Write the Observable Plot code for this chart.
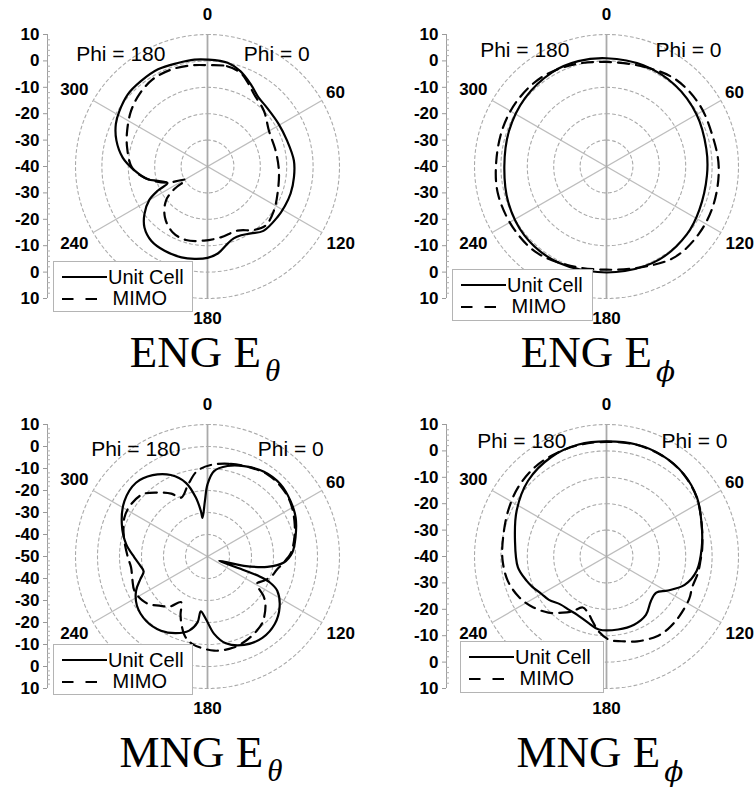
<!DOCTYPE html>
<html><head><meta charset="utf-8">
<script src="https://cdn.jsdelivr.net/npm/d3@7"></script>
<script src="https://cdn.jsdelivr.net/npm/@observablehq/plot@0.6"></script>
<style>
body{margin:0;background:#fff;}
#page{position:relative;width:755px;height:789px;overflow:hidden;background:#fff;}
.panel{position:absolute;width:380px;height:329px;}
.panel svg{overflow:visible;max-width:none !important;}
.legend{position:absolute;background:#fff;border:1px solid #b4b4b4;box-sizing:border-box;}
.legend svg{position:absolute;left:0;top:0;}
.title{position:absolute;width:300px;text-align:center;font-family:"Liberation Serif","Times New Roman",serif;font-size:45px;line-height:45px;height:45px;color:#000;white-space:nowrap;}
.title .sub{font-style:italic;font-size:31px;line-height:31px;position:relative;top:14px;margin-left:4px;}
.title .sub.phi{font-family:"DejaVu Serif","Liberation Serif",serif;font-size:28px;}
</style></head>
<body><div id="page"></div>
<script>
// ---------- data ----------
const seriesNames = ["Unit Cell", "MIMO"];
const angleTicks = [0, 60, 120, 180, 240, 300];
const spokeAngles = [60, 120];
const axisAngle = [0];
const phiLabels = ["Phi = 180", "Phi = 0"];
const panelNames = ["ENG", "ENG", "MNG", "MNG"];
const panelSubscripts = ["θ", "ϕ", "θ", "ϕ"];

const rangeEngTheta = [-40, 10];
const rangeEngPhi = [-40, 10];
const rangeMngTheta = [-50, 10];
const rangeMngPhi = [-40, 10];

// ENG E-theta
const engThetaUnitAngle = [0, 11, 19, 28, 36, 45, 59, 72, 86, 97, 108, 117, 126, 139, 147, 154, 160, 166, 173, 180, 188, 196, 207, 217, 226, 233, 240, 244, 247.5, 254, 258, 267, 276, 286, 295, 302, 312, 322, 333, 344, 353];
const engThetaUnitDb = [0.5, 0.0, -1.8, -4.9, -7.4, -8.3, -8.6, -8.3, -7.2, -7.0, -6.9, -7.1, -7.3, -7.7, -9.8, -11.0, -11.0, -9.6, -6.9, -5.4, -4.7, -4.2, -4.2, -4.7, -6.8, -10.1, -14.5, -19.0, -23.6, -20.4, -16.9, -12.3, -7.7, -4.1, -1.7, -0.6, 0.7, 1.0, 1.3, 0.8, 0.8];
const engThetaMimoAngle = [0, 11, 19.5, 26, 33, 45.5, 60, 77, 93.5, 109, 123.6, 135.5, 143.8, 155, 169.4, 182.6, 196.4, 208, 220, 230.5, 236, 238.5, 248, 255.4, 262, 269.5, 283.3, 293.9, 306, 316.6, 327.8, 339.4, 350.7];
const engThetaMimoDb = [-1.6, -1.3, -2.4, -4.9, -7.5, -10.0, -13.1, -13.5, -12.9, -11.8, -9.8, -8.6, -10.2, -13.2, -12.7, -11.9, -11.0, -11.8, -14.9, -19.6, -25.1, -30.4, -23.7, -18.6, -14.6, -11.3, -8.7, -6.7, -4.2, -2.4, -1.0, -0.8, -1.2];

// ENG E-phi
const engPhiUnitAngle = [0, 20, 40, 60, 80, 95, 115, 130, 150, 170, 190, 210, 230, 250, 270, 290, 310, 330, 345];
const engPhiUnitDb = [1.0, 0.8, 0.3, -0.6, -1.6, -1.8, -1.2, -0.2, 0.5, 0.2, 0.2, 0.8, 0.6, -0.4, -1.3, -0.7, 0.3, 1.2, 1.3];
const engPhiMimoAngle = [0, 20, 38, 56, 73, 90, 109, 126, 143, 160, 180, 200, 219, 237, 256, 273, 291, 307, 324, 342];
const engPhiMimoDb = [-0.4, 0.3, 2.1, 2.3, 1.8, 2.5, 3.0, 3.3, 3.0, 0.5, -0.9, 0.0, 2.0, 2.3, 2.4, 1.8, 1.9, 2.0, 1.8, 0.6];

// MNG E-theta
const mngThetaUnitAngle = [0, 4.4, 12.4, 22, 33.7, 45.4, 56.3, 66.2, 77.9, 87.3, 94.5, 99.8, 104.3, 110, 110.5, 111, 112.5, 116.1, 125.2, 135.1, 146, 157.5, 168.1, 175.1, 181.5, 187, 188.6, 193.9, 202.4, 212.1, 223.8, 235.1, 244.4, 251.4, 256.8, 262.1, 269.2, 278.6, 290.6, 303.7, 315.9, 326, 335.8, 343.7, 348.8, 351.7, 352.7, 357.3];
const mngThetaUnitDb = [-17.2, -11.1, -7.9, -5.7, -3.7, -3.3, -4.6, -6.2, -9.1, -11.4, -15.2, -22.4, -32.9, -44.4, -34, -24.4, -19.5, -14.7, -9.9, -6.7, -5.4, -6.5, -9.7, -14.7, -21.6, -24.9, -19.7, -15.3, -12.3, -10.2, -9.6, -10.9, -14.0, -17.8, -20.2, -19.2, -16.8, -12.6, -8.4, -4.6, -3.3, -5.4, -9.4, -15.1, -22.7, -29.1, -32.3, -24.8];
const mngThetaMimoAngle = [2, 14, 25, 36, 48, 58, 70, 80, 88, 95, 101, 107, 113, 119, 125, 130, 140, 147, 155, 164, 176, 190, 196, 201, 205, 210, 217, 224.5, 230, 236, 245, 253, 262, 270, 283, 295, 304, 314, 322, 330, 336, 345, 353];
const mngThetaMimoDb = [-8.4, -6.6, -5.2, -3.8, -4.0, -5.2, -7.8, -10.1, -12.2, -15.5, -18, -19.5, -22, -24.4, -19, -15.6, -11, -9.4, -8, -7.0, -7.1, -9.7, -12.5, -17, -21, -26, -21.5, -18.7, -16, -14.3, -13.3, -14.3, -14.9, -13.7, -11.0, -8.3, -7.9, -9.2, -13.1, -17.0, -20.7, -16.1, -10.9];

// MNG E-phi
const mngPhiUnitAngle = [0, 15, 29, 43, 57, 71, 85, 99, 110, 119, 126, 135, 146, 158, 171, 186, 195, 207, 215, 224, 233, 240, 248, 253, 263, 280, 297, 314, 331, 346];
const mngPhiUnitDb = [3.6, 3.9, 3.7, 2.8, 0.9, -1.9, -3.8, -5.4, -8.5, -13.4, -16.7, -16.2, -13.3, -12.1, -12.0, -12.2, -13.9, -15.3, -15.3, -14.8, -12.7, -11.6, -9.6, -8.4, -6.2, -4.8, -1.8, 1.3, 3.1, 3.7];
const mngPhiMimoAngle = [0, 15, 30, 43, 57, 71, 85, 93, 100, 110, 117, 130, 140, 148, 160, 170, 178, 186, 192, 198, 205, 212, 218, 226, 236, 245, 256, 268, 280, 295, 308, 322, 335, 348];
const mngPhiMimoDb = [3.4, 3.8, 3.6, 2.7, 0.8, -1.9, -3.6, -4.4, -4.8, -5.5, -4.8, -4.3, -4.0, -4.3, -5.8, -7.4, -8.4, -11.5, -14.8, -17.5, -18.7, -15.5, -13.0, -9.4, -6.0, -3.5, -1.5, -0.6, -0.2, 1.1, 2.5, 3.4, 3.5, 3.5];

// ---------- panels ----------
const panels = [
  {name: panelNames[0], sub: panelSubscripts[0], range: rangeEngTheta, unit: [engThetaUnitAngle, engThetaUnitDb], mimo: [engThetaMimoAngle, engThetaMimoDb]},
  {name: panelNames[1], sub: panelSubscripts[1], range: rangeEngPhi, unit: [engPhiUnitAngle, engPhiUnitDb], mimo: [engPhiMimoAngle, engPhiMimoDb]},
  {name: panelNames[2], sub: panelSubscripts[2], range: rangeMngTheta, unit: [mngThetaUnitAngle, mngThetaUnitDb], mimo: [mngThetaMimoAngle, mngThetaMimoDb]},
  {name: panelNames[3], sub: panelSubscripts[3], range: rangeMngPhi, unit: [mngPhiUnitAngle, mngPhiUnitDb], mimo: [mngPhiMimoAngle, mngPhiMimoDb]}
];
const layout = [
  {left: 0, top: 0, legend: [53, 261, 140, 51], phi: [-86.7, 69.3, 18.3], title: [205, 368]},
  {left: 399, top: 0, legend: [53, 269, 141, 52], phi: [-81.7, 82, 14.3], title: [598, 368]},
  {left: 0, top: 390, legend: [53, 254, 140, 51], phi: [-71.7, 83.3, 23], title: [201, 768]},
  {left: 399, top: 390, legend: [61, 251, 144, 52], phi: [-84.7, 88, 15.6], title: [600, 768]}
];

const page = document.getElementById("page");
const rad = a => a * Math.PI / 180;
const FONT = "'Liberation Sans', Arial, Helvetica, sans-serif";

function drawPanel(p, L) {
  const [rMin, rMax] = p.range;
  const n = (rMax - rMin) / 10;
  const half = 160 / 132;
  const u = v => Math.max(0, (v - rMin) / (rMax - rMin));
  const toRows = ([angles, dbs]) => angles.map((a, i) => ({a, db: dbs[i]}));
  const px = d => u(d.db) * Math.sin(rad(d.a));
  const py = d => u(d.db) * Math.cos(rad(d.a));
  const rings = d3.range(1, n + 1).flatMap(k => d3.range(0, 361, 2).map(a => ({k: k / n, a})));
  const major = d3.range(-n, n + 1).map(k => k / n);
  const minor = d3.range(-5 * n, 5 * n + 1).filter(k => k % 5 !== 0).map(k => k / (5 * n));
  const labelR = a => (a % 180 === 0 ? 1.15 : String(a).length === 3 ? 1.165 : 1.12);

  const chart = Plot.plot({
    width: 380, height: 329,
    marginLeft: 47, marginRight: 13, marginTop: 34, marginBottom: 31,
    x: {domain: [-half, half], axis: null},
    y: {domain: [-1, 1]},
    style: {fontFamily: FONT, fontSize: "17px", fontWeight: "bold", background: "transparent", color: "#000", overflow: "visible", maxWidth: "none"},
    marks: [
      Plot.line(rings, {x: d => d.k * Math.sin(rad(d.a)), y: d => d.k * Math.cos(rad(d.a)), z: "k", stroke: "#aaaaaa", strokeWidth: 1.1, strokeDasharray: "3,3"}),
      Plot.link(spokeAngles, {x1: a => Math.sin(rad(a)), y1: a => Math.cos(rad(a)), x2: a => -Math.sin(rad(a)), y2: a => -Math.cos(rad(a)), stroke: "#bdbdbd", strokeWidth: 1.3}),
      Plot.link(axisAngle, {x1: a => Math.sin(rad(a)), y1: a => Math.cos(rad(a)), x2: a => -Math.sin(rad(a)), y2: a => -Math.cos(rad(a)), stroke: "#aaaaaa", strokeWidth: 1.8}),
      Plot.ruleX([-half], {stroke: "#a0a0a0", strokeWidth: 1}),
      Plot.tickY(minor, {y: d => d, insetRight: 317, stroke: "#b0b0b0", strokeWidth: 1}),
      Plot.axisY({ticks: major, tickFormat: t => String(Math.round(rMin + Math.abs(t) * (rMax - rMin))), tickSize: 4, tickPadding: 4, stroke: "#999", fill: "#000", fontSize: 17, fontWeight: "bold", label: null}),
      Plot.line(toRows(p.unit), {x: px, y: py, curve: "catmull-rom-closed", stroke: "#000", strokeWidth: 2.2}),
      Plot.line(toRows(p.mimo), {x: px, y: py, curve: "catmull-rom-closed", stroke: "#000", strokeWidth: 2.2, strokeDasharray: "11,7"}),
      Plot.text(angleTicks, {x: a => labelR(a) * Math.sin(rad(a)), y: a => labelR(a) * Math.cos(rad(a)), text: a => String(a), fontSize: 17, fontWeight: "bold", fill: "#000"}),
      Plot.text([phiLabels[0]], {frameAnchor: "top", text: d => d, dx: L.phi[0], dy: L.phi[2] - 6.7, fontSize: 21, fontWeight: "normal", fill: "#000"}),
      Plot.text([phiLabels[1]], {frameAnchor: "top", text: d => d, dx: L.phi[1], dy: L.phi[2] - 6.7, fontSize: 21, fontWeight: "normal", fill: "#000"})
    ]
  });
  chart.style.maxWidth = "none";

  const div = document.createElement("div");
  div.className = "panel";
  div.style.left = L.left + "px";
  div.style.top = L.top + "px";
  div.appendChild(chart);

  const [lx, ly, lw, lh] = L.legend;
  const leg = document.createElement("div");
  leg.className = "legend";
  leg.style.cssText = `left:${lx}px;top:${ly}px;width:${lw}px;height:${lh}px;`;
  leg.innerHTML = `<svg width="${lw}" height="${lh}" style="font-family:${FONT};font-size:20px;">
    <line x1="8" x2="53" y1="15" y2="15" stroke="#000" stroke-width="2.2"/>
    <text x="54" y="22" fill="#000">${seriesNames[0]}</text>
    <line x1="8" x2="44" y1="37" y2="37" stroke="#000" stroke-width="2.2" stroke-dasharray="11.5,12"/>
    <text x="58.5" y="43" fill="#000">${seriesNames[1]}</text>
  </svg>`;
  div.appendChild(leg);
  page.appendChild(div);

  const t = document.createElement("div");
  t.className = "title";
  t.style.left = (L.title[0] - 150) + "px";
  t.style.top = (L.title[1] - 38) + "px";
  const subClass = p.sub === "ϕ" ? "sub phi" : "sub";
  t.innerHTML = `${p.name} E<span class="${subClass}">${p.sub}</span>`;
  page.appendChild(t);
}

panels.forEach((p, i) => drawPanel(p, layout[i]));
</script>
</body></html>
